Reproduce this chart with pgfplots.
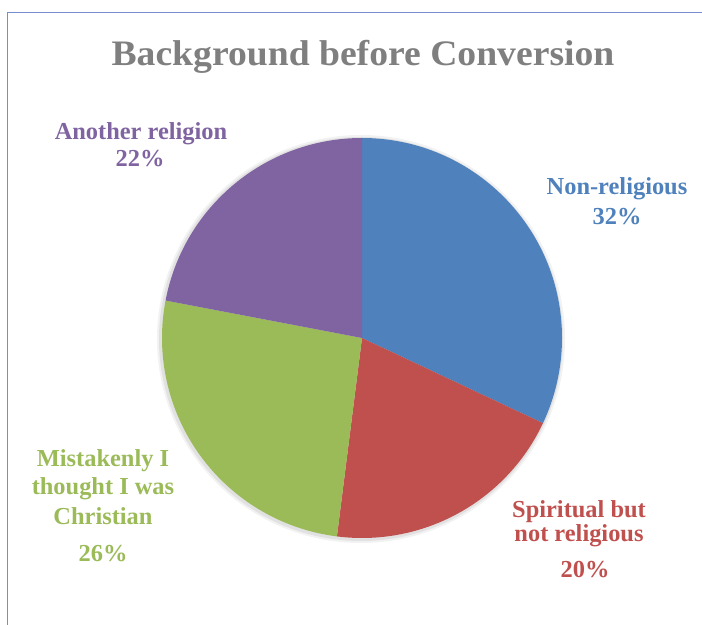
\documentclass[border=0pt]{standalone}
\usepackage{pgfplots}
\usepackage{pgfplotstable}
\pgfplotsset{compat=1.18}
\usepackage{fontspec}
\setmainfont{Liberation Serif}
\definecolor{slice0}{HTML}{4F81BD}
\definecolor{slice1}{HTML}{C0504D}
\definecolor{slice2}{HTML}{9BBB59}
\definecolor{slice3}{HTML}{8064A2}
\definecolor{titlegray}{HTML}{7F7F7F}
\definecolor{frameblue}{RGB}{120,140,210}
\pgfplotstableread[col sep=comma]{
label,value
Non-religious,32
Spiritual but not religious,20
Mistakenly I thought I was Christian,26
Another religion,22
}\piedata
\begin{document}
\begin{tikzpicture}
\path[use as bounding box] (0,0) rectangle (702bp,625bp);
\begin{axis}[
  at={(0,0)}, anchor=south west,
  scale only axis, width=702bp, height=625bp,
  xmin=0, xmax=702, ymin=0, ymax=625,
  hide axis, clip=false,
]
\fill[black, opacity=0.05] (axis cs:361,286) circle[radius=204bp];
\fill[black, opacity=0.07] (axis cs:361,286) circle[radius=202bp];
\def\startangle{90}
\pgfplotsforeachungrouped \i in {0,...,3} {
  \pgfplotstablegetelem{\i}{value}\of\piedata
  \pgfmathsetmacro\endang{\startangle-3.6*\pgfplotsretval}
  \edef\temp{\noexpand\fill[fill=slice\i] (axis cs:362,287) -- ++(\startangle:200bp) arc[start angle=\startangle, end angle=\endang, radius=200bp] -- cycle;}
  \temp
  \global\let\startangle\endang
}
\draw[frameblue, line width=0.8pt] (axis cs:7,0) -- (axis cs:7,613) -- (axis cs:702,613);
\node[anchor=base, text=titlegray, font=\bfseries\fontsize{36}{42}\selectfont] at (axis cs:363,559) {\scalebox{1.05}[1]{Background before Conversion}};
\begin{scope}[every node/.style={anchor=base, font=\bfseries\fontsize{24.5}{28}\selectfont}]
\node[text=slice3] at (axis cs:141,485) {Another religion};
\node[text=slice3] at (axis cs:140,458) {22\%};
\node[text=slice0] at (axis cs:617,430) {Non-religious};
\node[text=slice0] at (axis cs:617,400) {32\%};
\node[text=slice2] at (axis cs:103,158) {Mistakenly I};
\node[text=slice2] at (axis cs:103,130) {thought I was};
\node[text=slice2] at (axis cs:103,100) {Christian};
\node[text=slice2] at (axis cs:103,63) {26\%};
\node[text=slice1] at (axis cs:579,107) {Spiritual but};
\node[text=slice1] at (axis cs:579,83) {not religious};
\node[text=slice1] at (axis cs:585,47) {20\%};
\end{scope}
\end{axis}
\end{tikzpicture}
\end{document}
